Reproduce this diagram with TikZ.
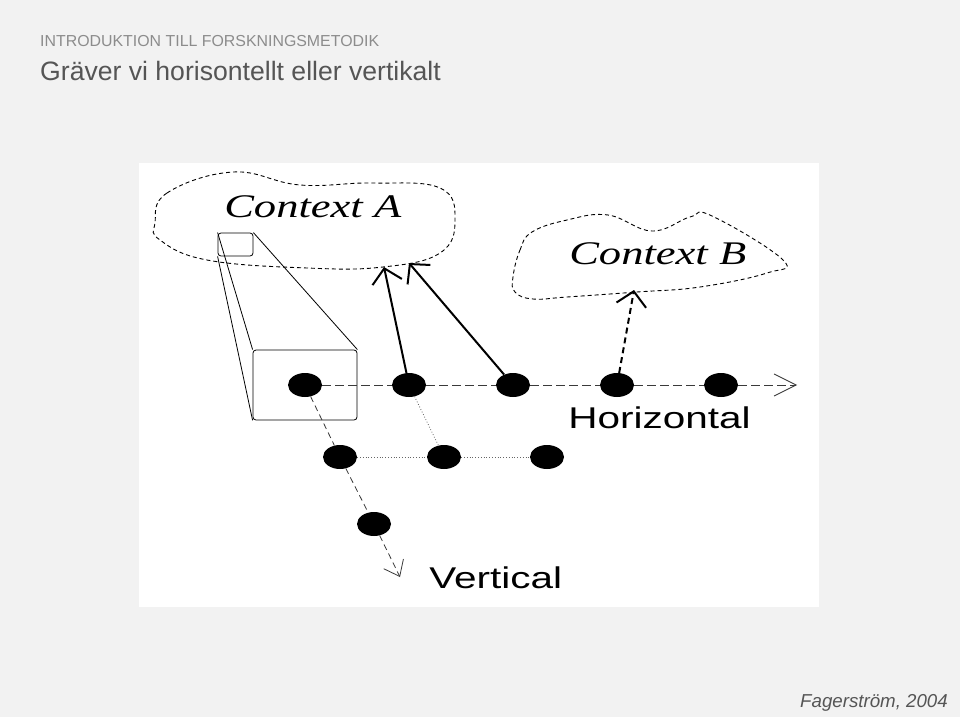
\documentclass[tikz,border=0pt]{standalone}
\usepackage{fontspec}
\setmainfont{Liberation Serif}
\setsansfont{Liberation Sans}
\usetikzlibrary{arrows.meta,shapes.geometric,positioning}
\definecolor{slidebg}{HTML}{F2F2F2}
\definecolor{kursgray}{HTML}{8C8C8C}
\definecolor{headgray}{HTML}{555555}
\definecolor{dashgray}{HTML}{3A3A3A}

\begin{document}
\begin{tikzpicture}[x = 1pt, y = -1pt,
    dot/.style = {ellipse, fill = black, minimum width = 34pt, minimum height = 24pt, inner sep = 0pt},
    lens/.style = {draw, rounded corners = 3pt, line width = .8pt, inner sep = 0pt},
    blob/.style = {dash pattern = on 4pt off 3pt, line width = .9pt},
    ctx/.style = {font = \fontsize{33}{33}\selectfont\itshape, anchor = base west, inner sep = 0pt, xscale = 1.35},
    axislabel/.style = {font = \sffamily\fontsize{30}{30}\selectfont, anchor = base west, inner sep = 0pt, xscale = 1.35},
    hline/.style = {draw = dashgray, line width = .8pt, dash pattern = on 9pt off 4pt},
    vline/.style = {draw = dashgray, line width = .8pt, dash pattern = on 6pt off 4pt},
    link/.style = {line width = 2pt, -{Straight Barb[length = 14pt, width = 30pt]}},
    dimlink/.style = {draw = black!60, line width = .8pt, dotted}]
    \fill[slidebg] (0,0) rectangle (960,717);
    \fill[white] (139,163) rectangle (819,607);
    \node[anchor = base west, inner sep = 0pt, text = kursgray, font = \sffamily\fontsize{15.9}{16}\selectfont] (kurs) at (40,46) {INTRODUKTION TILL FORSKNINGSMETODIK};
    \node[anchor = base west, inner sep = 0pt, text = headgray, font = \sffamily\fontsize{26.6}{27}\selectfont] (rubrik) at (40,80) {Gräver vi horisontellt eller vertikalt};
    \node[anchor = base east, inner sep = 0pt, text = headgray, font = \sffamily\itshape\fontsize{18.7}{19}\selectfont] (kalla) at (948,707) {Fagerström, 2004};
    \draw[blob] plot[smooth cycle, tension = .7] coordinates {(155,223) (167,193) (233,172) (300,185) (373,183) (440,188) (455,220) (440,253) (383,267) (307,268) (207,260) (160,240)};
    \draw[blob] plot[smooth cycle, tension = .7] coordinates {(513,277) (520,250) (532,232) (567,220) (608,215) (652,231) (690,217) (712,216) (783,260) (767,273) (700,287) (637,292) (567,297) (533,299) (515,292)};
    \node[ctx] (ctxa) at (224,217) {Context A};
    \node[ctx] (ctxb) at (569,264) {Context B};
    \coordinate (tipa1) at (384,267);
    \coordinate (tipa2) at (409,263);
    \coordinate (tipb) at (634,290);
    \coordinate (tiph) at (797,385);
    \coordinate (tipv) at (400,577);
    \node[lens, minimum width = 35pt, minimum height = 23pt] (small) at (235.5,244.5) {};
    \node[lens, minimum width = 104pt, minimum height = 70pt] (big) at (305,385) {};
    \draw[line width = .8pt] (small.north west) -- (big.north west);
    \draw[line width = .8pt] (small.south west) -- (big.south west);
    \draw[line width = .8pt] (small.north east) -- (big.north east);
    \node[dot] (h1) at (305,385) {};
    \node[dot] (h2) at (409,385) {};
    \node[dot] (h3) at (513,385) {};
    \node[dot] (h4) at (617,385) {};
    \node[dot] (h5) at (721,385) {};
    \node[dot] (d1) at (340,457) {};
    \node[dot] (d2) at (444,457) {};
    \node[dot] (d3) at (547,457) {};
    \node[dot] (v1) at (374,524) {};
    \draw[hline] (h1) -- (h2);
    \draw[hline] (h2) -- (h3);
    \draw[hline] (h3) -- (h4);
    \draw[hline] (h4) -- (h5);
    \draw[hline, -{Straight Barb[length = 22pt, width = 22pt]}] (h5) -- (tiph);
    \draw[vline] (h1) -- (d1);
    \draw[vline] (d1) -- (v1);
    \draw[vline, -{Straight Barb[length = 14pt, width = 22pt]}] (v1) -- (tipv);
    \draw[dimlink] (h2) -- (d2);
    \draw[dimlink] (d1) -- (d2);
    \draw[dimlink] (d2) -- (d3);
    \draw[link] (h2) -- (tipa1);
    \draw[link] (h3) -- (tipa2);
    \draw[link, dash pattern = on 6pt off 4pt] (h4) -- (tipb);
    \node[axislabel] (horiz) at (568,428) {Horizontal};
    \node[axislabel] (vert) at (429,588) {Vertical};
\end{tikzpicture}
\end{document}
